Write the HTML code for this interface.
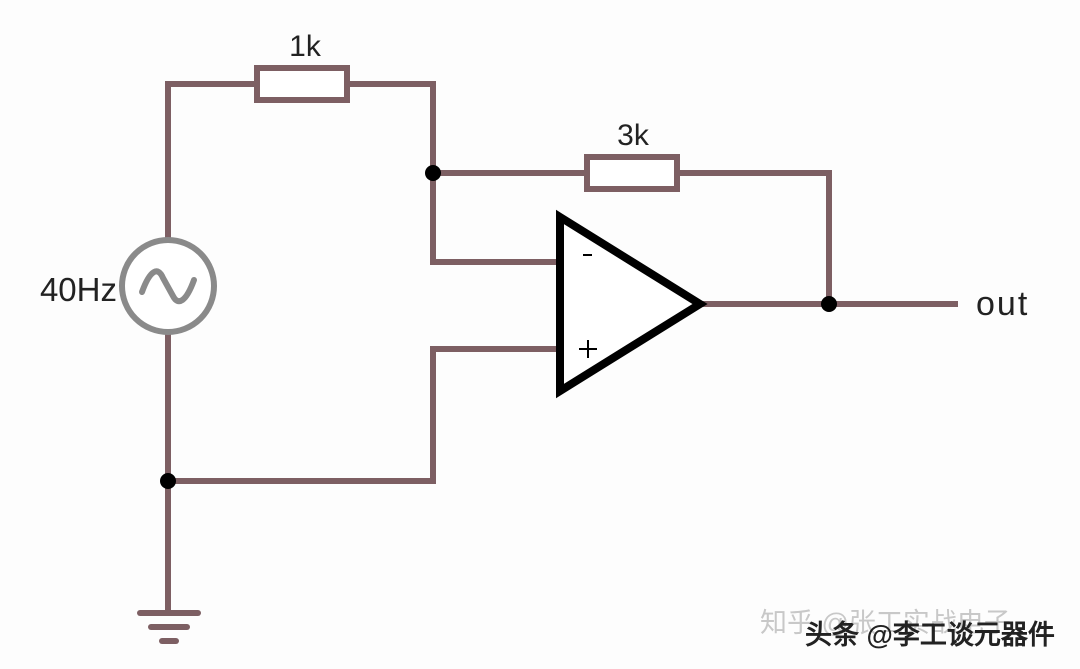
<!DOCTYPE html>
<html><head><meta charset="utf-8"><style>
html,body{margin:0;padding:0;background:#fdfdfd;}
svg{display:block}
text{font-family:"Liberation Sans","DejaVu Sans",sans-serif;fill:#222}
</style></head><body>
<svg width="1080" height="669" viewBox="0 0 1080 669" xmlns="http://www.w3.org/2000/svg">
<rect width="1080" height="669" fill="#fdfdfd"/>
<g stroke="#7d5f63" stroke-width="6" fill="none" stroke-linecap="square">
<polyline points="168,239 168,84 255,84"/>
<polyline points="348,84 433,84 433,262 560,262"/>
<rect x="257" y="68" width="90" height="32" fill="#fff"/>
<polyline points="433,173 585,173"/>
<polyline points="678,173 829,173 829,304"/>
<rect x="587" y="157" width="90" height="32" fill="#fff"/>
<line x1="703" y1="304" x2="955" y2="304"/>
<polyline points="560,349 433,349 433,481 168,481"/>
<line x1="168" y1="333" x2="168" y2="613"/>
</g>
<g stroke="#7d5f63" stroke-linecap="round" fill="none">
<line x1="140" y1="613" x2="198" y2="613" stroke-width="6"/>
<line x1="151" y1="627" x2="187" y2="627" stroke-width="6"/>
<line x1="162" y1="641" x2="176" y2="641" stroke-width="6"/>
</g>
<circle cx="168" cy="286" r="46" fill="#fff" stroke="#8a8a8a" stroke-width="6"/>
<path d="M142,292 C150,270 158,266 163,278 L173,296 C178,306 186,302 194,280" fill="none" stroke="#8a8a8a" stroke-width="6" stroke-linecap="round"/>
<polygon points="560,217 700,304 560,391" fill="#fff" stroke="#000" stroke-width="8" stroke-linejoin="miter"/>
<line x1="583" y1="255" x2="592" y2="255" stroke="#000" stroke-width="2"/>
<line x1="579" y1="349" x2="597" y2="349" stroke="#000" stroke-width="2"/>
<line x1="588" y1="340" x2="588" y2="358" stroke="#000" stroke-width="2"/>
<g fill="#000">
<circle cx="433" cy="173" r="8"/>
<circle cx="829" cy="304" r="8"/>
<circle cx="168" cy="481" r="8"/>
</g>
<text x="305" y="56" font-size="30" text-anchor="middle">1k</text>
<text x="633" y="145" font-size="30" text-anchor="middle">3k</text>
<text x="117" y="301" font-size="33" text-anchor="end">40Hz</text>
<text x="976" y="315" font-size="34" letter-spacing="2">out</text>
<text x="760" y="632" font-size="27" style="fill:#c8c8c8" font-family="Noto Sans CJK SC">知乎 @张工实战电子</text>
<text x="805" y="644" font-size="27" font-weight="bold" style="fill:#222" font-family="Noto Sans CJK SC">头条 @李工谈元器件</text>
</svg>
</body></html>
